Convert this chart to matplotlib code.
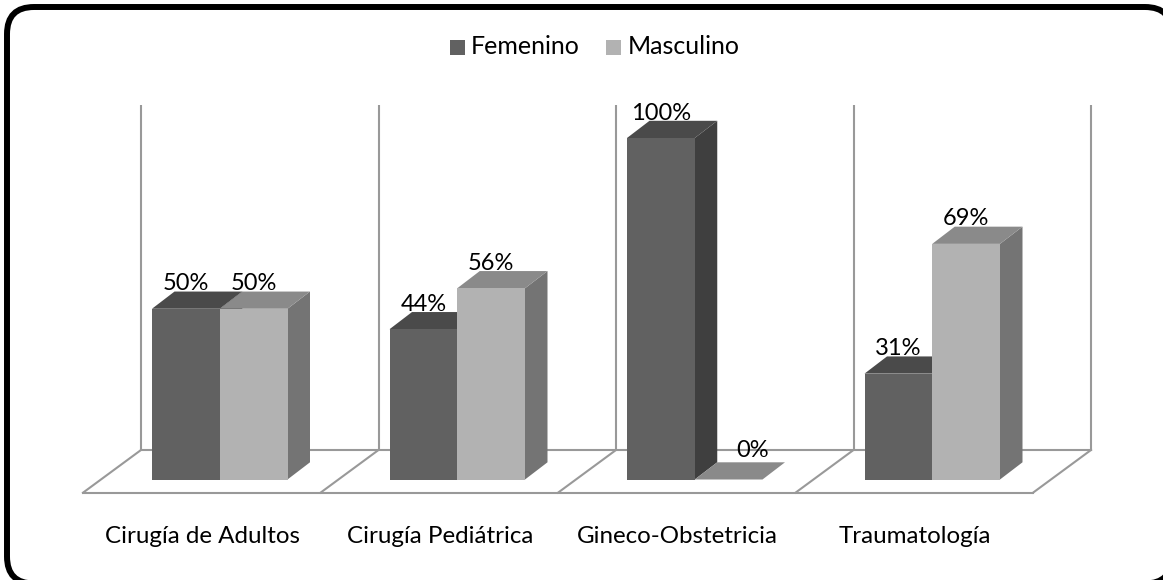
import matplotlib
matplotlib.use('Agg')
import matplotlib.pyplot as plt
from matplotlib.patches import FancyBboxPatch, Polygon, Rectangle

categories = ['Cirugía de Adultos', 'Cirugía Pediátrica', 'Gineco-Obstetricia', 'Traumatología']
femenino = [50, 44, 100, 31]
masculino = [50, 56, 0, 69]

# (front, top, side) shades of each series
femenino_colors = ('#616161', '#4a4a4a', '#3f3f3f')
masculino_colors = ('#b2b2b2', '#8a8a8a', '#747474')

WIDTH, HEIGHT = 1163, 580
GROUP_PX = 237.5
PCT_PX = 3.415
ZERO_X = 219.75
ZERO_Y = 479.5


def to_x(px):
    return (px - ZERO_X) / GROUP_PX


def to_y(py):
    return (ZERO_Y - py) / PCT_PX


plt.rcParams['font.family'] = 'Lato'

fig = plt.figure(figsize=(WIDTH / 100, HEIGHT / 100), dpi=100)
ax = fig.add_axes([0, 0, 1, 1])
ax.set_xlim(to_x(0), to_x(WIDTH))
ax.set_ylim(to_y(HEIGHT), to_y(0))
ax.axis('off')

# rounded outer frame in figure pixels, running off the right and bottom edges
frame = FancyBboxPatch((7, -3.5), 1165, 576.5,
                       boxstyle='round,pad=0,rounding_size=27',
                       transform=None, facecolor='white', edgecolor='black',
                       linewidth=4.3, zorder=0)
ax.add_patch(frame)

# back wall lines and the floor
grid_color = '#999999'
wall_top, floor_back, floor_front = to_y(105), to_y(450), to_y(492.7)
slant = to_x(83) - to_x(141)
for k in range(len(categories) + 1):
    x = to_x(141) + k
    ax.plot([x, x], [floor_back, wall_top], color=grid_color, lw=1.5, zorder=1,
            solid_capstyle='butt')
    ax.plot([x, x + slant], [floor_back, floor_front], color=grid_color, lw=1.5, zorder=1)
ax.plot([to_x(141), to_x(141) + 4], [floor_back, floor_back], color=grid_color, lw=1.5, zorder=1)
ax.plot([to_x(83), to_x(83) + 4], [floor_front, floor_front], color=grid_color, lw=1.5, zorder=1)

bar_w = 67.75 / GROUP_PX
depth_x = 22.5 / GROUP_PX
depth_y = 17.2 / PCT_PX
label_gap = 18.5 / PCT_PX


def draw_bar(x0, value, colors, z):
    front, top, side = colors
    ax.bar(x0, value, width=bar_w, align='edge', color=front, zorder=z + 0.2)
    ax.add_patch(Polygon([(x0, value), (x0 + bar_w, value),
                          (x0 + bar_w + depth_x, value + depth_y), (x0 + depth_x, value + depth_y)],
                         facecolor=top, edgecolor='none', zorder=z + 0.1))
    ax.add_patch(Polygon([(x0 + bar_w, 0), (x0 + bar_w + depth_x, depth_y),
                          (x0 + bar_w + depth_x, value + depth_y), (x0 + bar_w, value)],
                         facecolor=side, edgecolor='none', zorder=z))


def value_label(x_center, value):
    # an empty bar has its label pushed out past the flat top face
    if value == 0:
        x_center += 23.5 / GROUP_PX
        y = 22.8 / PCT_PX
    else:
        y = value + label_gap
    ax.text(x_center, y, f'{value}%', ha='center', va='baseline',
            fontsize=17, color='black', zorder=5)


for k, name in enumerate(categories):
    draw_bar(k - bar_w, femenino[k], femenino_colors, 2)
    draw_bar(k, masculino[k], masculino_colors, 3)

    value_label(k - bar_w / 2, femenino[k])
    value_label(k + bar_w / 2, masculino[k])

    ax.text(k - 0.072, to_y(543), name, ha='center', va='baseline',
            fontsize=17.4, color='black')

# legend keys and names
for key_x, label_x, label, color in [(450, 471, 'Femenino', femenino_colors[0]),
                                     (606, 628, 'Masculino', masculino_colors[0])]:
    ax.add_patch(Rectangle((to_x(key_x), to_y(55)), 15 / GROUP_PX, 15 / PCT_PX,
                           facecolor=color, edgecolor='none', zorder=5))
    ax.text(to_x(label_x), to_y(54), label, ha='left', va='baseline',
            fontsize=18, color='black')

fig.savefig('out.png', dpi=100)
